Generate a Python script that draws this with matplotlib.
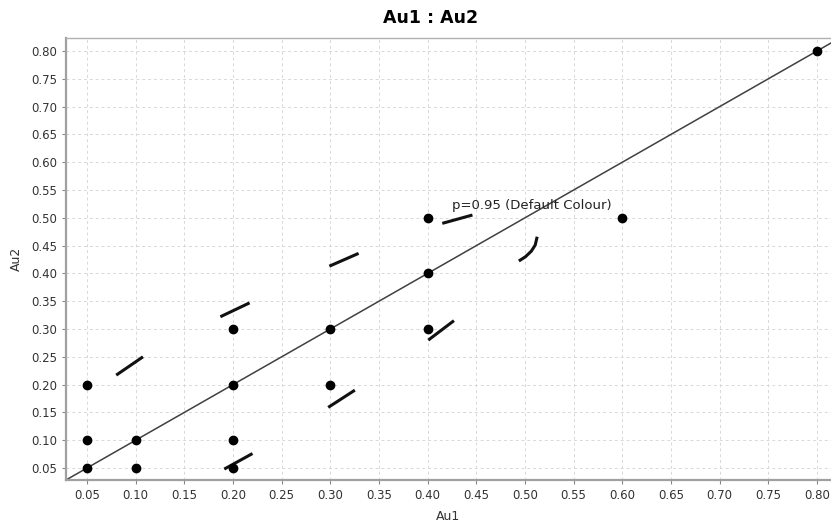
import matplotlib
matplotlib.use("Agg")
import matplotlib.pyplot as plt
import numpy as np

plt.rcParams["font.family"] = ["DejaVu Sans"]

# Observed pairs
au1 = [0.05, 0.05, 0.05, 0.10, 0.10, 0.20, 0.20, 0.20, 0.20, 0.30, 0.30, 0.40, 0.40, 0.40, 0.60, 0.80]
au2 = [0.05, 0.10, 0.20, 0.05, 0.10, 0.05, 0.10, 0.20, 0.30, 0.20, 0.30, 0.30, 0.40, 0.50, 0.50, 0.80]

# Visible fragments of the p=0.95 contour (x lists, y lists)
contour_x = [
    [0.080, 0.1075],
    [0.187, 0.217],
    [0.191, 0.220],
    [0.299, 0.329],
    [0.415, 0.446],
    [0.4937, 0.5005, 0.5065, 0.5105, 0.5125],
    [0.4006, 0.427],
    [0.2978, 0.3252],
]
contour_y = [
    [0.217, 0.250],
    [0.322, 0.347],
    [0.048, 0.076],
    [0.413, 0.436],
    [0.490, 0.505],
    [0.4223, 0.430, 0.440, 0.451, 0.466],
    [0.280, 0.315],
    [0.159, 0.190],
]
contour_label = "p=0.95 (Default Colour)"

x_ticks = [0.05, 0.10, 0.15, 0.20, 0.25, 0.30, 0.35, 0.40, 0.45, 0.50, 0.55, 0.60, 0.65, 0.70, 0.75, 0.80]
y_ticks = x_ticks

fig = plt.figure(figsize=(8.31, 5.26), dpi=100)
ax = fig.add_axes([66 / 831, 46 / 526, 765 / 831, 442 / 526])

ax.set_xlim(0.0284, 0.8144)
ax.set_ylim(0.0284, 0.8234)

ax.grid(True, color="#d8d8d8", linestyle=(0, (3, 3)), linewidth=0.7)
ax.set_axisbelow(True)

# identity line
ax.plot([0, 1], [0, 1], color="#404040", linewidth=1.1, zorder=2)

for xs, ys in zip(contour_x, contour_y):
    ax.plot(xs, ys, color="#111111", linewidth=2.2, solid_capstyle="butt", zorder=3)

ax.scatter(au1, au2, s=36, color="black", zorder=4)

ax.text(0.5075, 0.523, contour_label, fontsize=9.5, ha="center", va="center", color="#222222")

ax.set_xticks(x_ticks)
ax.set_yticks(y_ticks)
ax.set_xticklabels([f"{v:.2f}" for v in x_ticks])
ax.set_yticklabels([f"{v:.2f}" for v in y_ticks])
ax.tick_params(axis="both", labelsize=8.5, colors="#888888", labelcolor="#333333", length=3, width=0.8)

for side in ("left", "bottom"):
    ax.spines[side].set_color("#a0a0a0")
    ax.spines[side].set_linewidth(1.6)
ax.spines["top"].set_color("#b0b0b0")
ax.spines["top"].set_linewidth(1.0)
ax.spines["right"].set_visible(False)

ax.set_xlabel("Au1", fontsize=9, color="#333333", labelpad=6)
ax.set_ylabel("Au2", fontsize=9, color="#333333", labelpad=6)

fig.text(431 / 831, 1 - 18 / 526, "Au1 : Au2", fontsize=12.5, fontweight="bold", ha="center", va="center")

fig.savefig("out.png", dpi=100)
